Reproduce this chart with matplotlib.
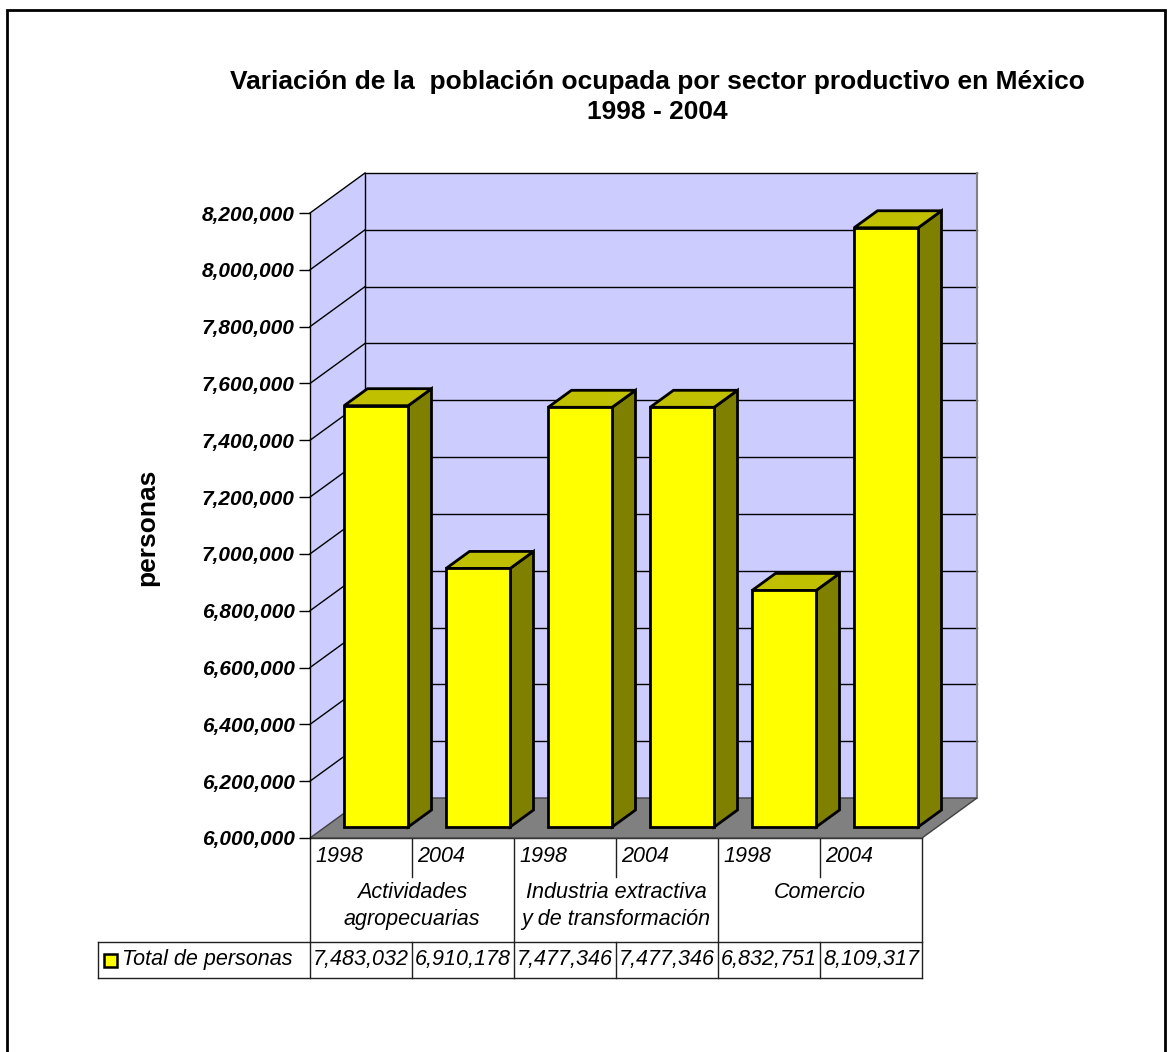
import matplotlib
matplotlib.use("Agg")
import matplotlib.pyplot as plt
from matplotlib.patches import Polygon, Rectangle
from matplotlib.transforms import blended_transform_factory

plt.rcParams['font.family'] = ['Liberation Sans', 'DejaVu Sans']

# data
categories = ["Actividades\nagropecuarias", "Industria extractiva\ny de transformación", "Comercio"]
years = ["1998", "2004"]
values = [7483032, 6910178, 7477346, 7477346, 6832751, 8109317]
series_name = "Total de personas"
title = "Variación de la  población ocupada por sector productivo en México\n1998 - 2004"
ylabel = "personas"
ymin, ymax, ystep = 6000000, 8200000, 200000

W, H = 1168, 1052
fig = plt.figure(figsize=(W / 100, H / 100), dpi=100)

def fy(py):
    return 1 - py / H

def fx(px):
    return px / W

# front plane of the 3d box
ax = fig.add_axes([fx(310), fy(838), fx(922) - fx(310), fy(213) - fy(838)])
n = len(values)
ax.set_xlim(0, n)
ax.set_ylim(ymin, ymax)

# depth offset (3d look)
DX = 55 / 102
DY = 40 / 625 * (ymax - ymin)

def p(x, y, d):
    return (x + d * DX, y + d * DY)

wall = "#CCCCFF"
ax.add_patch(Polygon([p(0, ymin, 0), p(0, ymax, 0), p(0, ymax, 1), p(0, ymin, 1)],
                     closed=True, fc=wall, ec="none", clip_on=False, zorder=1))
ax.add_patch(Polygon([p(0, ymin, 1), p(n, ymin, 1), p(n, ymax, 1), p(0, ymax, 1)],
                     closed=True, fc=wall, ec="none", clip_on=False, zorder=1))

ticks = list(range(ymin, ymax + 1, ystep))
for t in ticks:
    if t == ymin:
        continue
    x0, y0 = p(0, t, 1)
    x1, y1 = p(n, t, 1)
    ax.plot([x0, x1], [y0, y1], color="black", lw=1, clip_on=False, zorder=2)
    ax.plot([0, x0], [t, y0], color="black", lw=1, clip_on=False, zorder=2)

# back-left and back-right edges
bl0, bl1 = p(0, ymin, 1), p(0, ymax, 1)
ax.plot([bl0[0], bl1[0]], [bl0[1], bl1[1]], color="black", lw=1, clip_on=False, zorder=2)
br0, br1 = p(n, ymin, 1), p(n, ymax, 1)
ax.plot([br0[0], br1[0]], [br0[1], br1[1]], color="#808080", lw=1.5, clip_on=False, zorder=2)

# floor
ax.add_patch(Polygon([p(0, ymin, 0), p(n, ymin, 0), p(n, ymin, 1), p(0, ymin, 1)],
                     closed=True, fc="#808080", ec="#404040", lw=1, clip_on=False, zorder=3))

# bars
bw = 64 / 102
d0, d1 = 0.275, 0.70
for i, v in enumerate(values):
    c = i + 0.5
    xl, xr = c - bw / 2, c + bw / 2
    side = [p(xr, ymin, d0), p(xr, ymin, d1), p(xr, v, d1), p(xr, v, d0)]
    top = [p(xl, v, d0), p(xr, v, d0), p(xr, v, d1), p(xl, v, d1)]
    front = [p(xl, ymin, d0), p(xr, ymin, d0), p(xr, v, d0), p(xl, v, d0)]
    for pts, col in ((side, "#808000"), (top, "#C0C000"), (front, "#FFFF00")):
        ax.add_patch(Polygon(pts, closed=True, fc=col, ec="black", lw=2,
                             joinstyle="miter", clip_on=False, zorder=4 + i * 0.1))

for s in ("top", "right", "bottom"):
    ax.spines[s].set_visible(False)
ax.spines["left"].set_linewidth(1)
ax.spines["left"].set_zorder(5)
ax.set_xticks([])
ax.set_yticks(ticks)
ax.set_yticklabels([f"{t:,}" for t in ticks], fontsize=15, fontweight="bold", style="italic")
ax.tick_params(axis="y", direction="out", length=8, width=1, pad=3)
ax.patch.set_visible(False)

fig.text(fx(147), fy(527), ylabel, rotation=90, fontsize=19, fontweight="bold",
         ha="center", va="center")

fig.text(fx(657), fy(97), title, fontsize=19, fontweight="bold", ha="center",
         va="center", linespacing=1.3)

# data table below the chart
tr = blended_transform_factory(ax.transData, fig.transFigure)
lc = "#202020"

def hline(x0, x1, py):
    ax.plot([x0, x1], [fy(py), fy(py)], color=lc, lw=1, transform=tr, clip_on=False)

def vline(x, py0, py1):
    ax.plot([x, x], [fy(py0), fy(py1)], color=lc, lw=1, transform=tr, clip_on=False)

leg_x = (98 - 310) / 102
hline(0, n, 838)
hline(leg_x, n, 942)
hline(leg_x, n, 978)
for k in range(n + 1):
    if k % 2 == 0:
        vline(k, 838, 978)
    else:
        vline(k, 838, 877)
        vline(k, 942, 978)
vline(leg_x, 942, 978)

tfs = 15.5
for i in range(n):
    ax.text(i + 0.05, fy(857), years[i % 2], transform=tr, fontsize=tfs, style="italic",
            ha="left", va="center")
    ax.text(i + 0.5, fy(960), f"{values[i]:,}", transform=tr, fontsize=tfs, style="italic",
            ha="center", va="center")

for j, cat in enumerate(categories):
    for li, line in enumerate(cat.split("\n")):
        ax.text(2 * j + 1, fy(892 + 27 * li), line, transform=tr, fontsize=tfs,
                style="italic", ha="center", va="center")

fig.patches.append(Rectangle((fx(104), fy(967)), fx(117) - fx(104), fy(954) - fy(967),
                             transform=fig.transFigure, fc="#FFFF00", ec="black", lw=1.8))
fig.text(fx(122), fy(960), series_name, fontsize=tfs, style="italic", ha="left", va="center")

# outer frame
fig.patches.append(Rectangle((fx(7), fy(1060)), fx(1165) - fx(7), fy(10) - fy(1060),
                             transform=fig.transFigure, fc="none", ec="black", lw=2,
                             clip_on=False))

fig.savefig("out.png", dpi=100)
